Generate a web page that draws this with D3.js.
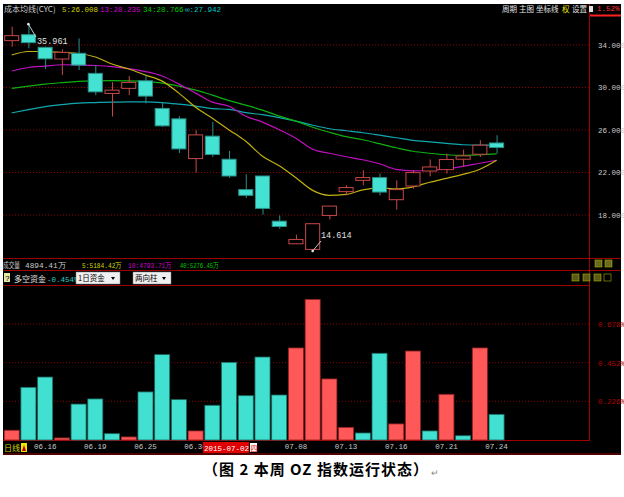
<!DOCTYPE html>
<html><head><meta charset="utf-8">
<script src="https://cdn.jsdelivr.net/npm/d3@7"></script>
<style>body{margin:0;background:#fff}svg{display:block}</style>
</head><body>
<svg id="c" width="624" height="497"></svg>
<script>
// ---------------- data ----------------
const dates = ["06.12","06.15","06.16","06.17","06.18","06.19","06.23","06.24","06.25","06.26",
  "06.29","06.30","07.01","07.02","07.03","07.06","07.07","07.08","07.09","07.10",
  "07.13","07.14","07.15","07.16","07.17","07.20","07.21","07.22","07.23","07.24"];
const openP  = [34.41,34.97,33.78,32.68,33.22,31.33,29.44,29.92,30.63,28.03,27.05,23.31,25.42,23.25,20.39,21.67,17.42,15.29,14.76,17.96,20.20,21.26,21.52,19.44,20.73,22.14,22.27,23.25,23.72,24.78];
const highP  = [35.73,35.961,33.85,33.60,34.63,32.11,30.50,31.08,31.17,28.56,27.30,25.98,26.76,24.03,21.83,21.67,17.96,16.14,17.18,18.84,20.79,22.21,21.90,21.26,22.21,23.22,23.78,24.16,25.04,25.51];
const lowP   = [33.84,33.69,31.74,31.17,31.64,29.28,27.27,29.28,28.50,26.29,23.84,21.99,23.46,21.48,19.60,18.03,16.71,15.29,14.614,17.58,19.85,20.79,19.85,18.50,20.48,21.64,21.90,22.52,23.46,23.78];
const closeP = [34.88,34.22,32.70,33.31,32.11,29.59,29.75,30.48,29.19,26.39,24.22,25.54,23.69,21.67,19.85,18.62,16.92,15.70,17.18,18.84,20.58,21.52,20.16,20.39,21.99,22.52,23.22,23.56,24.57,24.35];
const ma5   = [33.06,33.39,33.39,33.29,33.20,32.87,32.21,31.74,31.17,30.60,29.47,28.15,27.11,26.01,24.94,23.53,22.63,21.50,20.32,19.85,19.94,20.37,20.56,20.46,20.65,21.08,21.45,21.83,22.30,23.15];
const ma13  = [31.55,31.88,32.02,32.14,32.11,32.07,31.97,31.78,31.50,31.08,30.32,29.47,28.62,28.24,27.30,26.74,26.03,25.23,24.19,23.81,23.48,23.20,22.82,22.30,22.16,22.21,22.35,22.58,22.87,23.15];
const ma34  = [29.92,30.13,30.32,30.46,30.58,30.63,30.65,30.63,30.56,30.42,30.13,29.75,29.28,28.77,28.34,27.87,27.30,26.83,26.26,25.79,25.37,25.08,24.71,24.33,24.00,23.81,23.67,23.62,23.67,23.76];
const maInf = [27.61,27.92,28.20,28.39,28.53,28.58,28.62,28.65,28.65,28.58,28.43,28.25,28.01,27.94,27.63,27.44,27.16,26.83,26.45,26.12,25.93,25.74,25.51,25.27,25.03,24.89,24.75,24.61,24.57,24.57];
const flow  = [0.057,-0.308,-0.368,0.012,-0.210,-0.240,-0.037,0.018,-0.281,-0.499,-0.236,0.053,-0.203,-0.454,-0.259,-0.485,-0.263,0.538,0.822,0.357,0.074,-0.041,-0.507,0.094,0.520,-0.053,0.267,-0.025,0.538,-0.150];
const priceTicks = [34,30,26,22,18];
const flowTicks = [0.226,0.452,0.678];
const axisDates = ["06.16","06.19","06.25","06.30","07.08","07.13","07.16","07.21","07.24"];
const headerItems = [["成本均线(CYC)","#c8c8c8"],["5:26.008","#d2d200"],["13:28.235","#d200d2"],["34:28.766","#00c800"],["∞:27.942","#00c8c8"]];
const volItems = [["成交量","#c8c8c8"],["4894.41万","#c8c8c8"],["5:5184.42万","#d2d200"],["10:4793.71万","#d200d2"],["40:5276.45万","#00c800"]];
const highlightDate = "2015-07-02";

// ---------------- setup ----------------
const svg = d3.select("#c");
const MONO = "'Liberation Mono','DejaVu Sans Mono',monospace";
const CJK = "'Noto Sans CJK SC','Noto Sans',sans-serif";
const RED = "#a00000", GRID = "#8c0000";
const L = 3, R = 589;

svg.append("rect").attr("x",3).attr("y",4).attr("width",618).attr("height",451).attr("fill","#000");

const x = d3.scaleBand().domain(dates).range([3.34, 504.94]).paddingInner(0.1).paddingOuter(0.05);
const cx = d => x(d) + x.bandwidth()/2;
const y = d3.scaleLinear().domain([18,34]).range([215,45]);
const yf = d3.scaleLinear().domain([0,0.678]).range([440,324]);

// grid main
svg.append("g").selectAll("line").data(priceTicks).join("line")
  .attr("x1",L).attr("x2",R).attr("y1",d=>y(d)).attr("y2",d=>y(d))
  .attr("stroke",GRID).attr("stroke-dasharray","1,2");
const pa = svg.append("g").attr("transform",`translate(${R},0)`)
  .call(d3.axisRight(y).tickValues(priceTicks).tickFormat(d3.format(".3f")).tickSize(0).tickPadding(9));
pa.select(".domain").remove();
pa.selectAll("text").attr("fill","#c8c8c8").attr("font-family",MONO).attr("font-size",7.5);

// grid flow
svg.append("g").selectAll("line").data(flowTicks).join("line")
  .attr("x1",L).attr("x2",R).attr("y1",d=>yf(d)).attr("y2",d=>yf(d))
  .attr("stroke",GRID).attr("stroke-dasharray","1,2");
const fa = svg.append("g").attr("transform",`translate(${R},0)`)
  .call(d3.axisRight(yf).tickValues(flowTicks).tickFormat(d=>d3.format(".3f")(d)+"%").tickSize(0).tickPadding(9));
fa.select(".domain").remove();
fa.selectAll("text").attr("fill","#b00000").attr("font-family",MONO).attr("font-size",7.5);

// panel lines
const hl = (yy,x1,x2)=>svg.append("line").attr("x1",x1).attr("x2",x2).attr("y1",yy).attr("y2",yy).attr("stroke",RED).attr("stroke-width",1);
hl(258.5,L,621); hl(270.5,L,621); hl(285.5,L,589); hl(440.5,L,589); hl(454,L,621);
svg.append("line").attr("x1",589.5).attr("x2",589.5).attr("y1",4).attr("y2",441).attr("stroke",RED);
svg.append("line").attr("x1",590).attr("x2",621).attr("y1",15.5).attr("y2",15.5).attr("stroke","#ff2020").attr("stroke-width",2);

// MA lines
const line = d3.line().x((d,i)=>cx(dates[i])).y(d=>y(d)).curve(d3.curveMonotoneX);
[[maInf,"#10a8b0"],[ma34,"#10b010"],[ma13,"#c010c0"],[ma5,"#c0b010"]].forEach(([arr,c])=>{
  svg.append("path").attr("d",line(arr)).attr("fill","none").attr("stroke",c).attr("stroke-width",1.2);
});

// candles
const cd = dates.map((d,i)=>({d,o:openP[i],h:highP[i],l:lowP[i],c:closeP[i]}));
const cg = svg.append("g").selectAll("g").data(cd).join("g");
cg.append("line").attr("x1",d=>cx(d.d)+0.5).attr("x2",d=>cx(d.d)+0.5)
  .attr("y1",d=>y(d.h)).attr("y2",d=>y(d.l))
  .attr("stroke",d=>d.c>=d.o?"#c84848":"#2a9088");
cg.append("rect").attr("x",d=>x(d.d)+0.5).attr("width",x.bandwidth()-1)
  .attr("y",d=>y(Math.max(d.o,d.c))).attr("height",d=>Math.max(1,y(Math.min(d.o,d.c))-y(Math.max(d.o,d.c))))
  .attr("fill",d=>d.c>=d.o?"#000":"#44e2d2")
  .attr("stroke",d=>d.c>=d.o?"#c84848":"#2a9088").attr("stroke-width",1);

// annotations
function annot(i, val, tx, ty, lx1, ly1){
  const px = cx(dates[i]);
  svg.append("line").attr("x1",lx1).attr("y1",ly1).attr("x2",px).attr("y2",y(val)).attr("stroke","#c8c8c8");
  svg.append("circle").attr("cx",px).attr("cy",y(val)).attr("r",1.3).attr("fill","#e8e8e8");
  svg.append("text").attr("x",tx).attr("y",ty).text(d3.format(".3f")(val))
    .attr("fill","#e0e0e0").attr("font-family",MONO).attr("font-size",8.5);
}
annot(1, highP[1], 37, 44, 36, 37);
annot(18, lowP[18], 321, 238, 321, 241);

// flow bars
svg.append("g").selectAll("rect").data(dates).join("rect")
  .attr("x",d=>x(d)).attr("width",x.bandwidth())
  .attr("y",(d,i)=>yf(Math.abs(flow[i]))).attr("height",(d,i)=>440-yf(Math.abs(flow[i])))
  .attr("fill",(d,i)=>flow[i]>=0?"#ff5858":"#42e0d0")
  .attr("stroke",(d,i)=>flow[i]>=0?"#902020":"#1a6a62").attr("stroke-width",0.8);

// date axis (the 07.02 cursor label box sits over part of 06.30, as in the original)
const da = svg.append("g").attr("transform","translate(0,441)")
  .call(d3.axisBottom(x).tickValues(axisDates).tickSize(0).tickPadding(3));
da.select(".domain").remove();
da.selectAll("text").attr("fill","#c8c8c8").attr("font-family",MONO).attr("font-size",7.5);

// highlight date
svg.append("rect").attr("x",203).attr("y",442).attr("width",46).attr("height",11).attr("fill","#e00000");
svg.append("text").attr("x",204).attr("y",451).text(highlightDate).attr("fill","#fff").attr("font-family",MONO).attr("font-size",7.5);
svg.append("rect").attr("x",250).attr("y",443).attr("width",7).attr("height",9).attr("fill","#fff");
svg.append("text").attr("x",250.5).attr("y",451).text("四").attr("fill","#e00000").attr("font-family",CJK).attr("font-size",7);
svg.append("text").attr("x",4).attr("y",451).text("日线").attr("fill","#d2d200").attr("font-family",CJK).attr("font-size",8);
svg.append("rect").attr("x",21).attr("y",443).attr("width",6).attr("height",9).attr("fill","#e8e800");
svg.append("path").attr("d","M22,451 L24,445 L26,451 Z").attr("fill","#c00000");

// header
let hxPos=[4,62,100,143,185];
headerItems.forEach(([t,c],i)=>svg.append("text").attr("x",hxPos[i]).attr("y",12).text(t)
  .attr("fill",c).attr("font-family",i==0?CJK:MONO).attr("font-size",i==0?8:7.5));
const menu=[["周期","#e0e0e0",502],["主图","#e0e0e0",519],["坐标线","#e0e0e0",536],["权","#e8e800",562],["设置","#e0e0e0",572]];
menu.forEach(([t,c,xx])=>svg.append("text").attr("x",xx).attr("y",12).text(t).attr("fill",c).attr("font-family",CJK).attr("font-size",7.5));
svg.append("rect").attr("x",589).attr("y",6).attr("width",4).attr("height",6).attr("fill","#e0e0e0");
svg.append("text").attr("x",597).attr("y",11).text("1.52%").attr("fill","#ff3030").attr("font-family",MONO).attr("font-size",7.5);

// volume row
const vxPos=[3,25,82,128,180], vLen=[17,41,40,44,39];
volItems.forEach(([t,c],i)=>svg.append("text").attr("x",vxPos[i]).attr("y",267.5).text(t)
  .attr("fill",c).attr("font-family",i==0?CJK:MONO).attr("font-size",i==0?7.5:7.5)
  .attr("textLength",vLen[i]).attr("lengthAdjust","spacingAndGlyphs"));
[[598,263],[608,263]].forEach(([a,b])=>{svg.append("rect").attr("x",a-3).attr("y",b-3).attr("width",7).attr("height",7).attr("fill","#6a6a20").attr("stroke","#b0b000").attr("stroke-width",0.6);});

// flow row
svg.append("rect").attr("x",4).attr("y",273).attr("width",6).attr("height",9).attr("fill","#e8e8a0");
svg.append("text").attr("x",5).attr("y",281).text("?").attr("fill","#000").attr("font-family",MONO).attr("font-size",8);
svg.append("text").attr("x",14).attr("y",281.5).text("多空资金").attr("fill","#e0e0e0").attr("font-family",CJK).attr("font-size",8);
svg.append("text").attr("x",47).attr("y",281.5).text("-0.454%").attr("fill","#20d0c0").attr("font-family",MONO).attr("font-size",7.5);
function dropdown(x0,w,t){
  svg.append("rect").attr("x",x0).attr("y",272).attr("width",w).attr("height",12).attr("fill","#f0f0f0").attr("stroke","#808080").attr("stroke-width",0.5);
  svg.append("text").attr("x",x0+2).attr("y",281).text(t).attr("fill","#000").attr("font-family",CJK).attr("font-size",7.5);
  svg.append("path").attr("d",`M${x0+w-9},277 L${x0+w-5},277 L${x0+w-7},280 Z`).attr("fill","#000");
}
dropdown(76,44,"1日资金"); dropdown(133,38,"两向柱");
[575,586,597,607].forEach((a,i)=>svg.append("rect").attr("x",a-3).attr("y",274).attr("width",7).attr("height",7)
  .attr("fill",i==3?"none":"#5a5a18").attr("stroke","#b0b000").attr("stroke-width",0.6));

// caption
svg.append("text").attr("x",203).attr("y",475).text("（图 2  本周 OZ 指数运行状态）")
  .attr("fill","#000").attr("font-family",CJK).attr("font-weight","bold").attr("font-size",15)
  .attr("textLength",225).attr("lengthAdjust","spacing");
svg.append("text").attr("x",431).attr("y",476).text("↵").attr("fill","#888").attr("font-family",CJK).attr("font-size",9);
</script></body></html>
